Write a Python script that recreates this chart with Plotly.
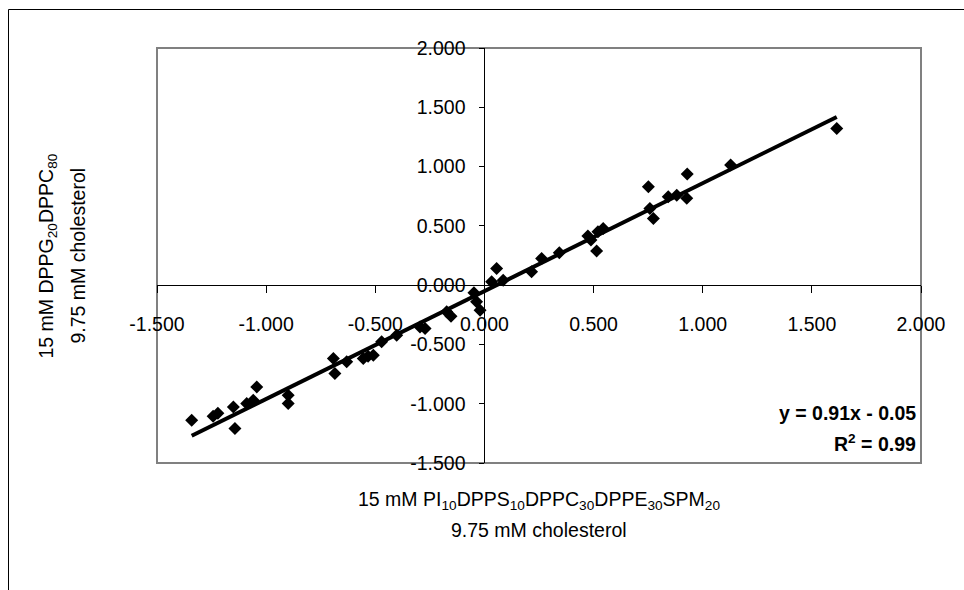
import numpy as np
import plotly.graph_objects as go

# data
x_vals = [-1.341, -1.243, -1.221, -1.150, -1.143, -1.089, -1.059, -1.043, -0.899, -0.899,
          -0.692, -0.685, -0.631, -0.555, -0.533, -0.509, -0.471, -0.402, -0.295, -0.272,
          -0.173, -0.153, -0.048, -0.036, -0.020, 0.033, 0.056, 0.086, 0.216, 0.262,
          0.343, 0.474, 0.488, 0.514, 0.520, 0.544, 0.751, 0.758, 0.774, 0.842,
          0.881, 0.927, 0.929, 1.128, 1.614]
y_vals = [-1.139, -1.105, -1.080, -1.027, -1.209, -0.998, -0.970, -0.858, -0.928, -0.998,
          -0.619, -0.745, -0.647, -0.619, -0.599, -0.591, -0.478, -0.422, -0.354, -0.366,
          -0.225, -0.262, -0.065, -0.141, -0.211, 0.028, 0.141, 0.042, 0.112, 0.225,
          0.273, 0.414, 0.380, 0.289, 0.450, 0.478, 0.830, 0.647, 0.563, 0.745,
          0.759, 0.732, 0.937, 1.013, 1.322]
slope = 0.91
intercept = -0.05
r_squared = 0.99
tick_vals = [-1.5, -1.0, -0.5, 0.0, 0.5, 1.0, 1.5, 2.0]
tick_text = [f"{v:.3f}" for v in tick_vals]

W, H = 964, 590
L, R, T, B = 157, 43, 48, 127
pw, ph = W - L - R, H - T - B

def px(xp):
    return (xp - L) / pw

def py(yp):
    return (H - B - yp) / ph

FONT = "Liberation Sans, Arial, sans-serif"
FS = 19.5

xfit = np.array([min(x_vals), max(x_vals)])
yfit = slope * xfit + intercept

fig = go.Figure()
fig.add_trace(go.Scatter(x=x_vals, y=y_vals, mode="markers",
                         marker=dict(symbol="diamond", size=10, color="black"),
                         showlegend=False))
fig.add_trace(go.Scatter(x=xfit, y=yfit, mode="lines",
                         line=dict(color="black", width=4), showlegend=False))

pos0 = 1.5 / 3.5
fig.update_layout(
    width=W, height=H,
    margin=dict(l=L, r=R, t=T, b=B),
    paper_bgcolor="white", plot_bgcolor="white",
    font=dict(family=FONT, size=FS, color="black"),
    xaxis=dict(range=[-1.5, 2.0], tickvals=tick_vals, ticktext=tick_text,
               anchor="free", position=pos0, showline=True, linecolor="black",
               linewidth=1, ticks="outside", ticklen=7, tickcolor="black",
               showgrid=False, zeroline=False, ticklabelstandoff=14),
    yaxis=dict(range=[-1.5, 2.0], tickvals=tick_vals, ticktext=tick_text,
               anchor="free", position=pos0, showline=True, linecolor="black",
               linewidth=1, ticks="outside", ticklen=5, tickcolor="black",
               showgrid=False, zeroline=False, ticklabelstandoff=10),
    shapes=[
        dict(type="rect", xref="paper", yref="paper", x0=0, x1=1, y0=0, y1=1,
             line=dict(color="#808080", width=2), layer="below"),
        dict(type="rect", xref="paper", yref="paper", x0=px(8.5), x1=px(1010),
             y0=py(9.5), y1=py(640), line=dict(color="black", width=1), layer="below"),
    ],
    annotations=[
        dict(text="15 mM PI<sub>10</sub>DPPS<sub>10</sub>DPPC<sub>30</sub>DPPE<sub>30</sub>SPM<sub>20</sub>",
             xref="paper", yref="paper", x=px(539), y=py(500), showarrow=False,
             xanchor="center", yanchor="middle"),
        dict(text="9.75 mM cholesterol", xref="paper", yref="paper",
             x=px(539), y=py(530), showarrow=False, xanchor="center", yanchor="middle"),
        dict(text="15 mM DPPG<sub>20</sub>DPPC<sub>80</sub>", xref="paper", yref="paper",
             x=px(47), y=py(255.5), showarrow=False, textangle=-90,
             xanchor="center", yanchor="middle"),
        dict(text="9.75 mM cholesterol", xref="paper", yref="paper",
             x=px(77), y=py(255.5), showarrow=False, textangle=-90,
             xanchor="center", yanchor="middle"),
        dict(text=f"<b>y = {slope:.2f}x - {abs(intercept):.2f}</b>", xref="paper", yref="paper",
             x=px(918), y=py(413), showarrow=False, xanchor="right", yanchor="middle"),
        dict(text=f"<b>R<sup>2</sup> = {r_squared:.2f}</b>", xref="paper", yref="paper",
             x=px(918), y=py(443), showarrow=False, xanchor="right", yanchor="middle"),
    ],
)

fig.write_html("out.html")
